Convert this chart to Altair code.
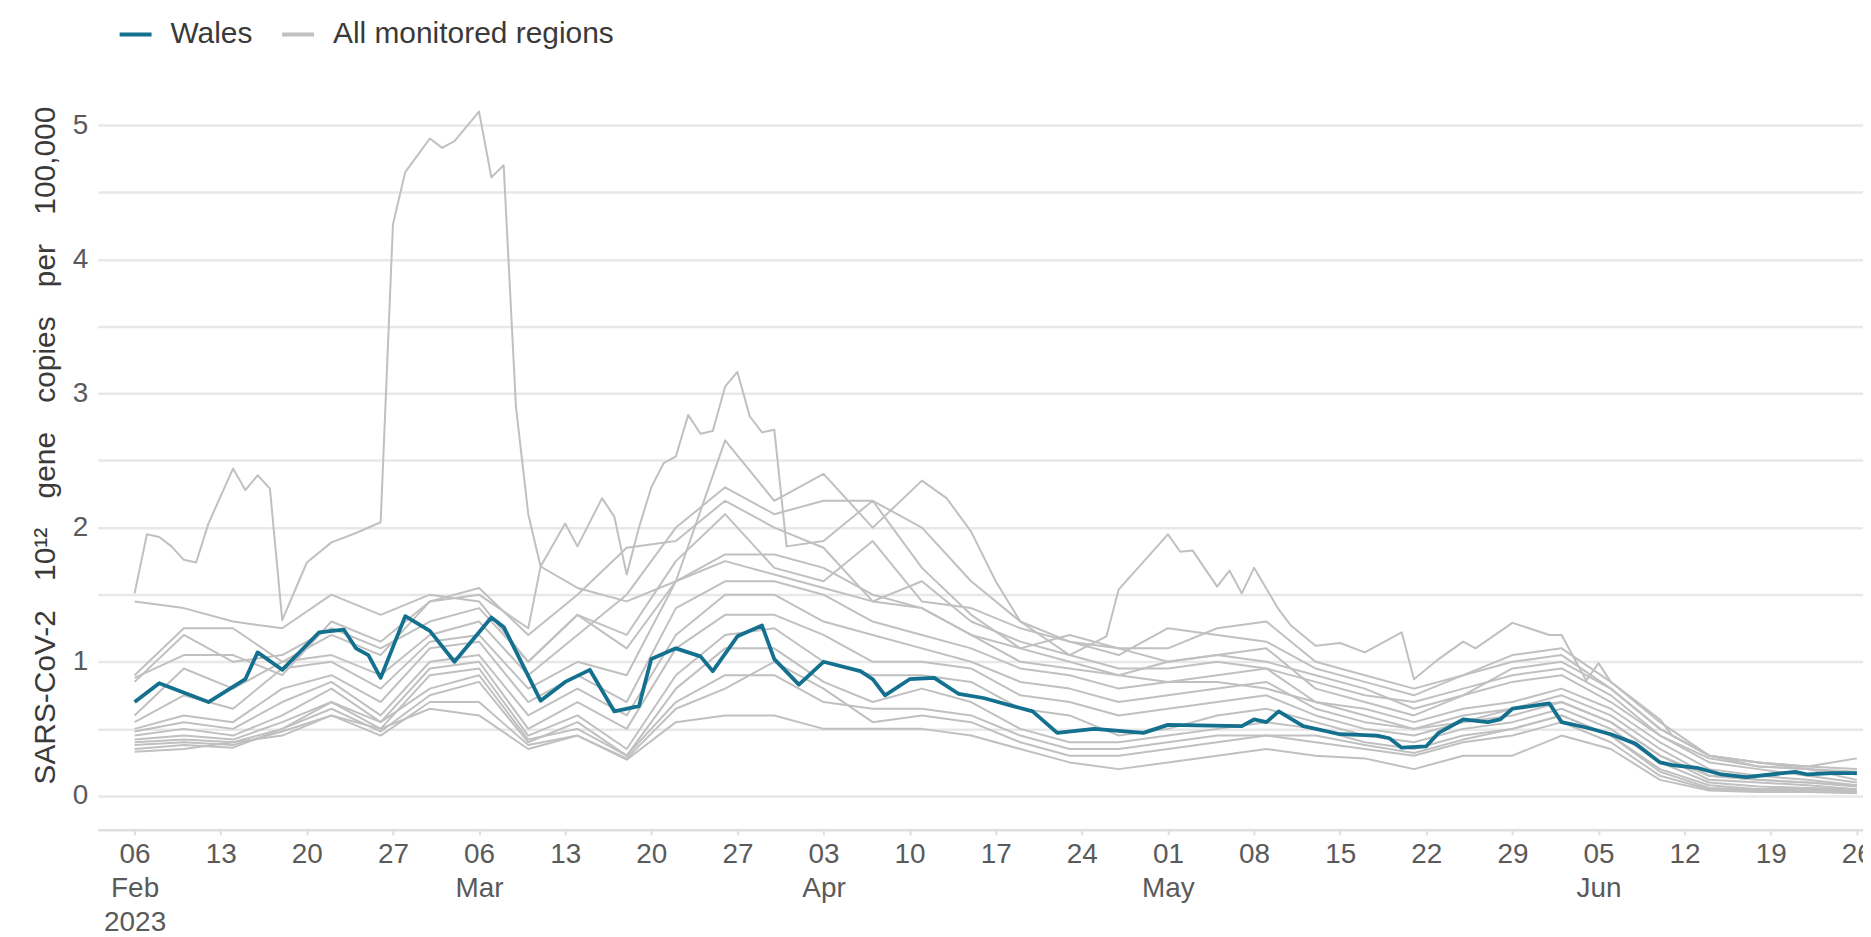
import altair as alt
import pandas as pd

BASE_DATE = "2023-02-06"
SERIES_NAMES = ["Wales", "All monitored regions"]
SERIES_COLORS = ["#13708f", "#c0c0c0"]
GAP = "\u2002\u2009 "
Y_TITLE = GAP.join(["SARS-CoV-2", "10\u00b9\u00b2", "gene", "copies", "per", "100,000"])

# Wales (days after 6 Feb 2023, value)
WALES_DAYS = [0, 2, 6, 9, 10, 12, 15, 17, 18, 19, 20, 22, 24, 26, 29, 30, 33, 35, 37, 39,
              41, 42, 44, 46, 47, 49, 51, 52, 54, 56, 59, 60, 61, 63, 65, 67, 69, 73, 75, 78,
              82, 84, 90, 91, 92, 93, 95, 98, 101, 102, 103, 105, 106, 108, 110, 111, 112, 115, 116, 118,
              120, 122, 124, 125, 127, 129, 131, 135, 136, 138, 140]
WALES_VALS = [0.70, 0.84, 0.70, 0.87, 1.07, 0.94, 1.22, 1.24, 1.10, 1.05, 0.88, 1.34, 1.23, 1.00, 1.33, 1.26, 0.71, 0.85, 0.94, 0.63,
              0.67, 1.02, 1.10, 1.04, 0.93, 1.19, 1.27, 1.02, 0.83, 1.00, 0.93, 0.87, 0.75, 0.87, 0.88, 0.76, 0.73, 0.63, 0.47, 0.50,
              0.47, 0.53, 0.52, 0.57, 0.55, 0.63, 0.52, 0.46, 0.45, 0.43, 0.36, 0.37, 0.47, 0.57, 0.55, 0.57, 0.65, 0.69, 0.55, 0.51,
              0.46, 0.39, 0.25, 0.23, 0.21, 0.16, 0.14, 0.18, 0.16, 0.17, 0.17]

# Region with the early-March spike
R01_DAYS = [0, 1, 2, 3, 4, 5, 6, 8, 9, 10, 11, 12, 14, 16, 18, 20, 21, 22, 24, 25,
            26, 28, 29, 30, 31, 32, 33, 36, 40, 44, 48, 52, 56, 60, 64, 68, 72, 76, 80, 84,
            88, 92, 96, 100, 104, 108, 112, 116, 120, 124, 128, 132, 136, 140]
R01_VALS = [1.51, 1.95, 1.93, 1.86, 1.76, 1.74, 2.03, 2.44, 2.28, 2.39, 2.29, 1.31, 1.74, 1.89, 1.96, 2.04, 4.26, 4.65, 4.90, 4.83,
            4.88, 5.10, 4.61, 4.70, 2.90, 2.10, 1.71, 1.55, 1.45, 1.60, 1.75, 1.65, 1.55, 1.45, 1.40, 1.20, 1.10, 1.00, 0.90, 0.85,
            0.85, 0.80, 0.70, 0.60, 0.50, 0.55, 0.65, 0.70, 0.55, 0.30, 0.15, 0.12, 0.10, 0.08]

# Region peaking at the end of March
R02_DAYS = [0, 4, 8, 12, 16, 20, 24, 28, 32, 33, 35, 36, 38, 39, 40, 41, 42, 43, 44, 45,
            46, 47, 48, 49, 50, 51, 52, 53, 56, 60, 64, 68, 72, 76, 80, 84, 88, 92, 96, 100,
            104, 108, 112, 116, 120, 124, 128, 132, 136, 140]
R02_VALS = [0.88, 1.05, 1.05, 0.90, 1.30, 1.15, 1.45, 1.50, 1.25, 1.71, 2.03, 1.86, 2.22, 2.08, 1.65, 2.00, 2.30, 2.48, 2.53, 2.84,
            2.70, 2.72, 3.05, 3.16, 2.83, 2.71, 2.73, 1.86, 1.90, 2.20, 2.00, 1.60, 1.30, 1.15, 1.10, 1.00, 1.05, 1.00, 0.90, 0.80,
            0.65, 0.75, 0.95, 1.00, 0.80, 0.50, 0.30, 0.25, 0.22, 0.20]

# Region with the early-May rise
R03_DAYS = [0, 4, 8, 12, 16, 20, 24, 28, 32, 36, 40, 44, 48, 52, 56, 60, 64, 66, 68, 70,
            72, 76, 79, 80, 84, 85, 86, 88, 89, 90, 91, 93, 94, 96, 98, 100, 103, 104, 106, 108,
            109, 112, 115, 116, 118, 119, 120, 124, 125, 128, 132, 136, 140]
R03_VALS = [0.85, 1.20, 1.00, 1.05, 1.25, 1.10, 1.30, 1.40, 1.00, 1.35, 1.10, 1.60, 2.65, 2.20, 2.40, 2.00, 2.35, 2.22, 1.97, 1.60,
            1.30, 1.05, 1.19, 1.54, 1.95, 1.82, 1.83, 1.56, 1.68, 1.51, 1.70, 1.39, 1.27, 1.12, 1.14, 1.07, 1.22, 0.87, 1.02, 1.15,
            1.10, 1.29, 1.20, 1.20, 0.86, 0.99, 0.85, 0.57, 0.45, 0.30, 0.25, 0.22, 0.28]

# Remaining regions, every 4 days from 6 Feb
GRID_DAYS = list(range(0, 141, 4))
R04 = [1.45, 1.40, 1.30, 1.25, 1.50, 1.35, 1.50, 1.45, 1.00, 1.35, 1.20, 1.75, 2.10, 1.70, 1.60, 1.90, 1.45, 1.40, 1.25, 1.15,
       1.05, 1.25, 1.20, 1.15, 0.95, 0.85, 0.75, 0.90, 1.05, 1.10, 0.85, 0.55, 0.30, 0.22, 0.20, 0.16]
R05 = [0.60, 0.95, 0.80, 1.00, 1.05, 0.90, 1.20, 1.30, 0.90, 1.20, 1.50, 2.00, 2.30, 2.10, 2.20, 2.20, 1.70, 1.35, 1.10, 1.20,
       1.10, 1.10, 1.25, 1.30, 1.00, 0.90, 0.80, 0.90, 1.00, 1.05, 0.80, 0.50, 0.30, 0.25, 0.20, 0.12]
R06 = [0.55, 0.75, 0.65, 0.95, 1.00, 0.80, 1.15, 1.20, 0.80, 1.00, 0.90, 1.60, 1.80, 1.80, 1.70, 1.50, 1.40, 1.20, 1.00, 0.95,
       0.90, 1.00, 1.05, 1.10, 0.80, 0.70, 0.60, 0.75, 0.85, 0.90, 0.70, 0.45, 0.25, 0.20, 0.15, 0.10]
R07 = [0.50, 0.60, 0.55, 0.80, 0.90, 0.70, 1.10, 1.15, 0.70, 0.90, 0.70, 1.40, 1.60, 1.60, 1.50, 1.30, 1.20, 1.10, 0.95, 0.90,
       0.80, 0.85, 0.90, 0.95, 0.70, 0.65, 0.55, 0.65, 0.70, 0.80, 0.65, 0.40, 0.20, 0.15, 0.12, 0.08]
R08 = [0.48, 0.55, 0.50, 0.70, 0.85, 0.60, 1.00, 1.05, 0.60, 0.80, 0.60, 1.20, 1.50, 1.50, 1.30, 1.20, 1.10, 1.00, 0.85, 0.80,
       0.70, 0.75, 0.80, 0.85, 0.65, 0.55, 0.50, 0.60, 0.65, 0.75, 0.60, 0.35, 0.15, 0.12, 0.10, 0.07]
R09 = [0.45, 0.50, 0.45, 0.60, 0.80, 0.55, 0.95, 1.00, 0.50, 0.70, 0.50, 1.10, 1.35, 1.35, 1.20, 1.00, 1.00, 0.95, 0.75, 0.70,
       0.60, 0.65, 0.70, 0.75, 0.60, 0.50, 0.45, 0.55, 0.60, 0.70, 0.55, 0.30, 0.12, 0.10, 0.08, 0.05]
R10 = [0.42, 0.45, 0.42, 0.55, 0.70, 0.50, 0.90, 0.95, 0.45, 0.60, 0.35, 0.90, 1.20, 1.25, 1.00, 0.90, 0.90, 0.85, 0.65, 0.60,
       0.45, 0.50, 0.60, 0.65, 0.55, 0.45, 0.40, 0.50, 0.55, 0.65, 0.50, 0.25, 0.10, 0.07, 0.06, 0.05]
R11 = [0.40, 0.42, 0.40, 0.50, 0.65, 0.48, 0.75, 0.85, 0.40, 0.55, 0.30, 0.80, 1.10, 1.10, 0.85, 0.70, 0.80, 0.70, 0.50, 0.40,
       0.40, 0.45, 0.50, 0.55, 0.50, 0.40, 0.35, 0.45, 0.50, 0.60, 0.45, 0.20, 0.08, 0.05, 0.05, 0.03]
R12 = [0.38, 0.40, 0.38, 0.48, 0.60, 0.45, 0.70, 0.70, 0.38, 0.45, 0.28, 0.65, 0.80, 1.00, 0.80, 0.55, 0.60, 0.55, 0.40, 0.30,
       0.30, 0.35, 0.40, 0.45, 0.40, 0.35, 0.30, 0.40, 0.45, 0.55, 0.40, 0.15, 0.05, 0.04, 0.04, 0.03]
R13 = [0.33, 0.35, 0.40, 0.45, 0.60, 0.50, 0.65, 0.60, 0.35, 0.45, 0.27, 0.55, 0.60, 0.60, 0.50, 0.50, 0.50, 0.45, 0.35, 0.25,
       0.20, 0.25, 0.30, 0.35, 0.30, 0.28, 0.20, 0.30, 0.30, 0.45, 0.35, 0.12, 0.04, 0.03, 0.03, 0.02]
R14 = [0.35, 0.38, 0.36, 0.50, 0.70, 0.55, 0.80, 0.90, 0.42, 0.50, 0.30, 0.70, 0.90, 0.90, 0.70, 0.65, 0.65, 0.60, 0.45, 0.35,
       0.35, 0.40, 0.45, 0.45, 0.45, 0.38, 0.32, 0.42, 0.50, 0.60, 0.45, 0.18, 0.06, 0.05, 0.05, 0.04]
R15 = [0.90, 1.25, 1.25, 1.00, 1.20, 1.05, 1.45, 1.55, 1.20, 1.50, 1.85, 1.90, 2.20, 2.00, 1.85, 1.45, 1.60, 1.30, 1.15, 1.05,
       0.95, 0.95, 1.00, 0.95, 0.85, 0.75, 0.70, 0.80, 0.90, 0.95, 0.75, 0.45, 0.28, 0.22, 0.20, 0.18]

X_TICK_DAYS = list(range(0, 141, 7))
Y_TICKS = [0, 0.5, 1, 1.5, 2, 2.5, 3, 3.5, 4, 4.5, 5]


def day_to_iso(d):
    return (pd.Timestamp(BASE_DATE) + pd.Timedelta(days=d)).strftime("%Y-%m-%dT%H:%M:%S")


rows = []
for d, v in zip(WALES_DAYS, WALES_VALS):
    rows.append({"date": day_to_iso(d), "value": v, "region": "Wales", "group": "Wales"})
irregular = {"R01": (R01_DAYS, R01_VALS), "R02": (R02_DAYS, R02_VALS), "R03": (R03_DAYS, R03_VALS)}
for name, (days, vals) in irregular.items():
    for d, v in zip(days, vals):
        rows.append({"date": day_to_iso(d), "value": v, "region": name, "group": "All monitored regions"})
grid = {"R04": R04, "R05": R05, "R06": R06, "R07": R07, "R08": R08, "R09": R09, "R10": R10,
        "R11": R11, "R12": R12, "R13": R13, "R14": R14, "R15": R15}
for name, vals in grid.items():
    for d, v in zip(GRID_DAYS, vals):
        rows.append({"date": day_to_iso(d), "value": v, "region": name, "group": "All monitored regions"})
df = pd.DataFrame(rows)

tick_values = []
for d in X_TICK_DAYS:
    t = pd.Timestamp(BASE_DATE) + pd.Timedelta(days=d)
    tick_values.append(alt.DateTime(year=t.year, month=t.month, date=t.day))

FONT = "Liberation Sans"

x_enc = alt.X(
    "date:T",
    scale=alt.Scale(domain=[alt.DateTime(year=2023, month=2, date=3),
                            alt.DateTime(year=2023, month=6, date=26, hours=12)]),
    axis=alt.Axis(
        title=None, values=tick_values, grid=False,
        labelExpr="[timeFormat(datum.value, '%d'), date(datum.value) <= 7 ? timeFormat(datum.value, '%b') : '', (month(datum.value) == 1 && date(datum.value) <= 7) ? '2023' : '']",
        labelFont=FONT, labelFontSize=28, labelColor="#5a5a5a", labelLineHeight=34,
        labelPadding=6, labelOverlap=False, labelFlush=False,
        domainColor="#dedede", domainWidth=2.5, tickColor="#dedede", tickSize=5, tickWidth=2,
    ),
)
y_enc = alt.Y(
    "value:Q",
    scale=alt.Scale(domain=[-0.2526, 5.178], nice=False, zero=False),
    axis=alt.Axis(
        title=Y_TITLE, values=Y_TICKS,
        labelExpr="datum.value % 1 === 0 ? format(datum.value, 'd') : ''",
        labelFont=FONT, labelFontSize=28, labelColor="#5a5a5a", labelPadding=10,
        domain=False, ticks=False, grid=True, gridColor="#e8e8e8", gridWidth=2.5,
        titleFont=FONT, titleFontSize=30, titleFontWeight="normal", titleColor="#3a3a3a",
        titleAngle=-90, titleX=-52, titleY=345, titleBaseline="middle", titleAlign="center",
    ),
)
color_enc = alt.Color(
    "group:N",
    scale=alt.Scale(domain=SERIES_NAMES, range=SERIES_COLORS),
    sort=SERIES_NAMES,
    legend=alt.Legend(
        title=None, orient="none", legendX=20, legendY=-85, direction="horizontal",
        symbolType="stroke", symbolSize=1024, symbolStrokeWidth=4,
        labelFont=FONT, labelFontSize=30, labelColor="#3a3a3a", labelOffset=17,
        labelLimit=0, columnPadding=21,
    ),
)

grey = alt.Chart(df).transform_filter(alt.datum.group != "Wales").mark_line(
    strokeWidth=2, strokeJoin="round"
).encode(x=x_enc, y=y_enc, color=color_enc, detail="region:N")

wales = alt.Chart(df).transform_filter(alt.datum.group == "Wales").mark_line(
    strokeWidth=3.8, strokeJoin="round"
).encode(x=x_enc, y=y_enc, color=color_enc, detail="region:N")

chart = alt.layer(grey, wales).properties(
    width=1771, height=731,
    autosize=alt.AutoSizeParams(type="none"),
    padding={"left": 90, "top": 92, "right": 0, "bottom": 105},
).configure_view(stroke=None)

chart.save("out.html", embed_options={"renderer": "svg", "actions": False})
